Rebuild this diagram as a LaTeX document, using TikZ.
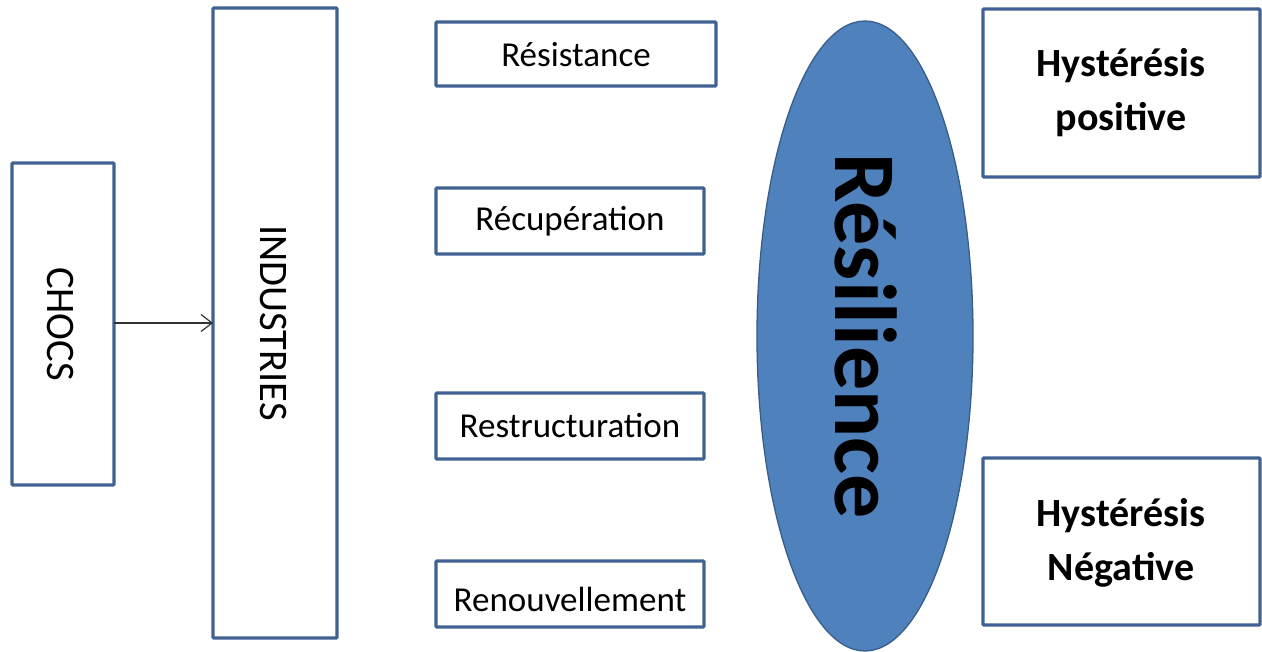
\documentclass[tikz,border=0pt]{standalone}
\usepackage{fontspec}
\setmainfont{Carlito}
\usetikzlibrary{shapes.geometric,arrows.meta}
\definecolor{bordblue}{RGB}{63,98,146}
\definecolor{fillblue}{RGB}{79,129,189}
\definecolor{ellline}{RGB}{56,93,138}
\tikzset{
  boxbase/.style={draw=bordblue, line width=3.2pt, rounded corners=1pt, inner sep=0pt, fill=white},
  txt/.style={font=\fontsize{35}{40}\selectfont},
  bigtxt/.style={font=\fontsize{40.5}{44}\selectfont},
  hyst/.style={font=\bfseries\fontsize{40}{54}\selectfont, align=center},
}
\begin{document}
\begin{tikzpicture}[x=1pt,y=-1pt]
\useasboundingbox (0,0) rectangle (1262,652);
% boxes
\draw[boxbase] (12,163) rectangle (114,485);
\node[bigtxt, rotate=-90] (chocs) at (61,324) {CHOCS};
\coordinate (chocsR) at (114,323);
\draw[boxbase] (213,8) rectangle (337,638);
\node[bigtxt, rotate=-90] (ind) at (273,323) {INDUSTRIES};
\coordinate (indL) at (213,323);
\draw[line width=1.2pt, draw=black!80, -{Straight Barb[length=11pt,width=17pt,line width=1.2pt]}] (chocsR) -- (indL);

\draw[boxbase] (436,22) rectangle (716,86);
\node[txt] (res) at (576,55) {Résistance};
\draw[boxbase] (436,188) rectangle (704,254);
\node[txt] (rec) at (570,221) {Récupération};
\draw[boxbase] (436,393) rectangle (704,459);
\node[txt] (rest) at (570,426) {Restructuration};
\draw[boxbase] (436,561) rectangle (704,627);
\node[txt] (ren) at (570,599) {Renouvellement};

% ellipse
\node[ellipse, draw=ellline, line width=1.3pt, fill=fillblue, minimum width=216pt, minimum height=630pt, inner sep=0pt] (ell) at (865,336) {};
\node[font=\bfseries\fontsize{88}{96}\selectfont, rotate=-90] (resil) at (866,336) {Résilience};

\draw[boxbase] (983,9) rectangle (1260,177);
\node[hyst] (hp) at (1121,93) {Hystérésis\\positive};
\draw[boxbase] (983,458) rectangle (1260,625);
\node[hyst] (hn) at (1121,543) {Hystérésis\\Négative};
\end{tikzpicture}
\end{document}
